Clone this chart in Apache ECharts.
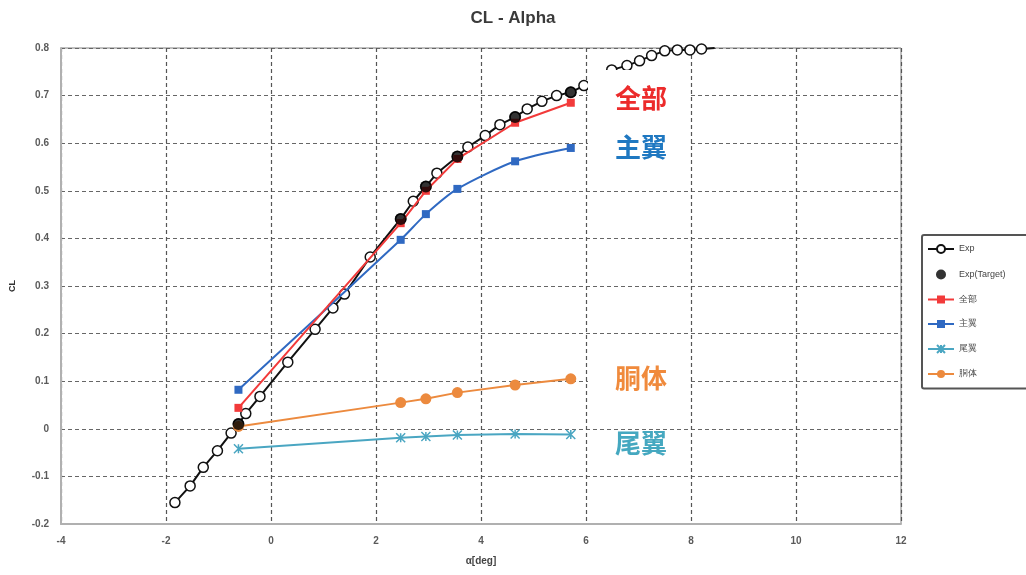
<!DOCTYPE html>
<html>
<head>
<meta charset="utf-8">
<script src="https://cdn.jsdelivr.net/npm/echarts@6/dist/echarts.min.js"></script>
<style>
  html, body { margin: 0; padding: 0; background: #fff; }
  #chart { width: 1026px; height: 575px; }
</style>
</head>
<body>
<div id="chart"></div>
<script>
// experiment curve (alpha, CL)
var expAlpha = [-1.83, -1.54, -1.29, -1.02, -0.76, -0.62, -0.48, -0.21, 0.32, 0.84, 1.18, 1.40, 1.89, 2.47, 2.71, 2.95, 3.16, 3.55, 3.75, 4.08, 4.36, 4.65, 4.88, 5.16, 5.44, 5.71, 5.96, 6.20, 6.49, 6.78, 7.02, 7.25, 7.50, 7.74, 7.98, 8.20, 8.45];
var expCL = [-0.155, -0.12, -0.081, -0.046, -0.009, 0.010, 0.032, 0.068, 0.140, 0.209, 0.254, 0.283, 0.361, 0.441, 0.478, 0.509, 0.537, 0.572, 0.592, 0.616, 0.639, 0.655, 0.672, 0.688, 0.700, 0.707, 0.721, 0.730, 0.754, 0.763, 0.773, 0.784, 0.794, 0.796, 0.796, 0.798, 0.800];

// computed cases
var calcAlpha = [-0.62, 2.47, 2.95, 3.55, 4.65, 5.71];
var targetCL = [0.010, 0.441, 0.509, 0.572, 0.655, 0.707];
var allCL = [0.044, 0.432, 0.500, 0.567, 0.643, 0.685];
var wingCL = [0.082, 0.397, 0.451, 0.504, 0.562, 0.590];
var tailCL = [-0.042, -0.019, -0.016, -0.013, -0.011, -0.012];
var bodyCL = [0.005, 0.055, 0.063, 0.076, 0.092, 0.105];

function pairs(xs, ys) {
    return xs.map(function (x, i) { return [x, ys[i]]; });
}

var expData = pairs(expAlpha, expCL).map(function (p, i) {
    // last point only carries the line to the frame edge
    return i === expAlpha.length - 1 ? { value: p, symbol: 'none' } : p;
});

var chart = echarts.init(document.getElementById('chart'));

var labelFont = 'bold 26px "Noto Sans CJK SC"';
function tag(text, color, cy, top, bottom) {
    return [
        { type: 'rect', z: 100, shape: { x: 588, y: cy - top, width: 100, height: top + bottom }, style: { fill: '#fff' } },
        { type: 'text', z: 101, x: 641, y: cy, style: { text: text, fill: color, font: labelFont, align: 'center', verticalAlign: 'middle' } }
    ];
}

var option = {
    backgroundColor: '#fff',
    animation: false,
    title: {
        text: 'CL - Alpha',
        left: 'center',
        top: 5,
        textStyle: { fontFamily: 'Liberation Sans', fontSize: 17, fontWeight: 'bold', color: '#3a3a3a' }
    },
    grid: {
        left: 61, right: 125, top: 48, bottom: 51,
        show: true, borderColor: '#808080', borderWidth: 1
    },
    legend: {
        orient: 'vertical',
        left: 922, top: 235,
        padding: [9, 30, 10, 5],
        itemGap: 15.5,
        itemWidth: 26, itemHeight: 10,
        borderColor: '#555', borderWidth: 2, borderRadius: 2,
        backgroundColor: '#fff',
        textStyle: { fontSize: 9, color: '#444', fontFamily: 'Liberation Sans' },
        data: ['Exp', 'Exp(Target)', '全部', '主翼', '尾翼', '胴体']
    },
    xAxis: {
        type: 'value',
        min: -4, max: 12, interval: 2,
        name: 'α[deg]',
        nameLocation: 'middle',
        nameGap: 32,
        nameTextStyle: { fontSize: 10, fontWeight: 'bold', color: '#444' },
        axisLine: { show: true, onZero: false, lineStyle: { color: '#b0b0b0', width: 2 } },
        axisTick: { show: false },
        axisLabel: { fontSize: 10, fontWeight: 'bold', color: '#5a5a5a', margin: 12 },
        splitLine: { show: true, lineStyle: { type: [4, 3], color: '#555', width: 1.2 } }
    },
    yAxis: {
        type: 'value',
        min: -0.2, max: 0.8, interval: 0.1,
        name: 'CL',
        nameLocation: 'middle',
        nameGap: 44,
        nameRotate: 90,
        nameTextStyle: { fontSize: 9, fontWeight: 'bold', color: '#333' },
        axisLine: { show: true, onZero: false, lineStyle: { color: '#b0b0b0', width: 2 } },
        axisTick: { show: false },
        axisLabel: { fontSize: 10, fontWeight: 'bold', color: '#5a5a5a', margin: 12 },
        splitLine: { show: true, lineStyle: { type: [4, 3], color: '#666', width: 1.2 } }
    },
    series: [
        {
            name: 'Exp', type: 'line', z: 3,
            data: expData,
            symbol: 'circle', symbolSize: 10,
            lineStyle: { color: '#111', width: 2 },
            itemStyle: { color: '#fff', borderColor: '#111', borderWidth: 1.5 }
        },
        {
            name: 'Exp(Target)', type: 'scatter', z: 6,
            data: pairs(calcAlpha, targetCL),
            symbol: 'circle', symbolSize: 12,
            itemStyle: { color: '#000' }
        },
        {
            name: '全部', type: 'line', z: 5,
            data: pairs(calcAlpha, allCL),
            symbol: 'rect', symbolSize: 8,
            lineStyle: { color: '#f23a3a', width: 2 },
            itemStyle: { color: '#f23a3a' }
        },
        {
            name: '主翼', type: 'line', z: 4, smooth: 0.25,
            data: pairs(calcAlpha, wingCL),
            symbol: 'rect', symbolSize: 8,
            lineStyle: { color: '#2f69c2', width: 2 },
            itemStyle: { color: '#2f69c2' }
        },
        {
            name: '尾翼', type: 'line', z: 4,
            data: pairs(calcAlpha, tailCL),
            symbol: 'path://M0,0L10,10M10,0L0,10M5,0L5,10', symbolSize: 9,
            lineStyle: { color: '#4aa6c2', width: 2 },
            itemStyle: { color: '#4aa6c2', borderColor: '#4aa6c2', borderWidth: 1.5 }
        },
        {
            name: '胴体', type: 'line', z: 4,
            data: pairs(calcAlpha, bodyCL),
            symbol: 'circle', symbolSize: 11,
            lineStyle: { color: '#ec8a3e', width: 2 },
            itemStyle: { color: '#ec8a3e' }
        }
    ],
    graphic: [].concat(
        tag('全部', '#ec2b2b', 98, 28, 20),
        tag('主翼', '#1f78c1', 147, 20, 20),
        tag('胴体', '#f08a3c', 378, 20, 16),
        tag('尾翼', '#45a8c0', 443, 12, 18)
    )
};

chart.setOption(option);
window.addEventListener('resize', function () {
    chart.resize();
});
</script>
</body>
</html>
